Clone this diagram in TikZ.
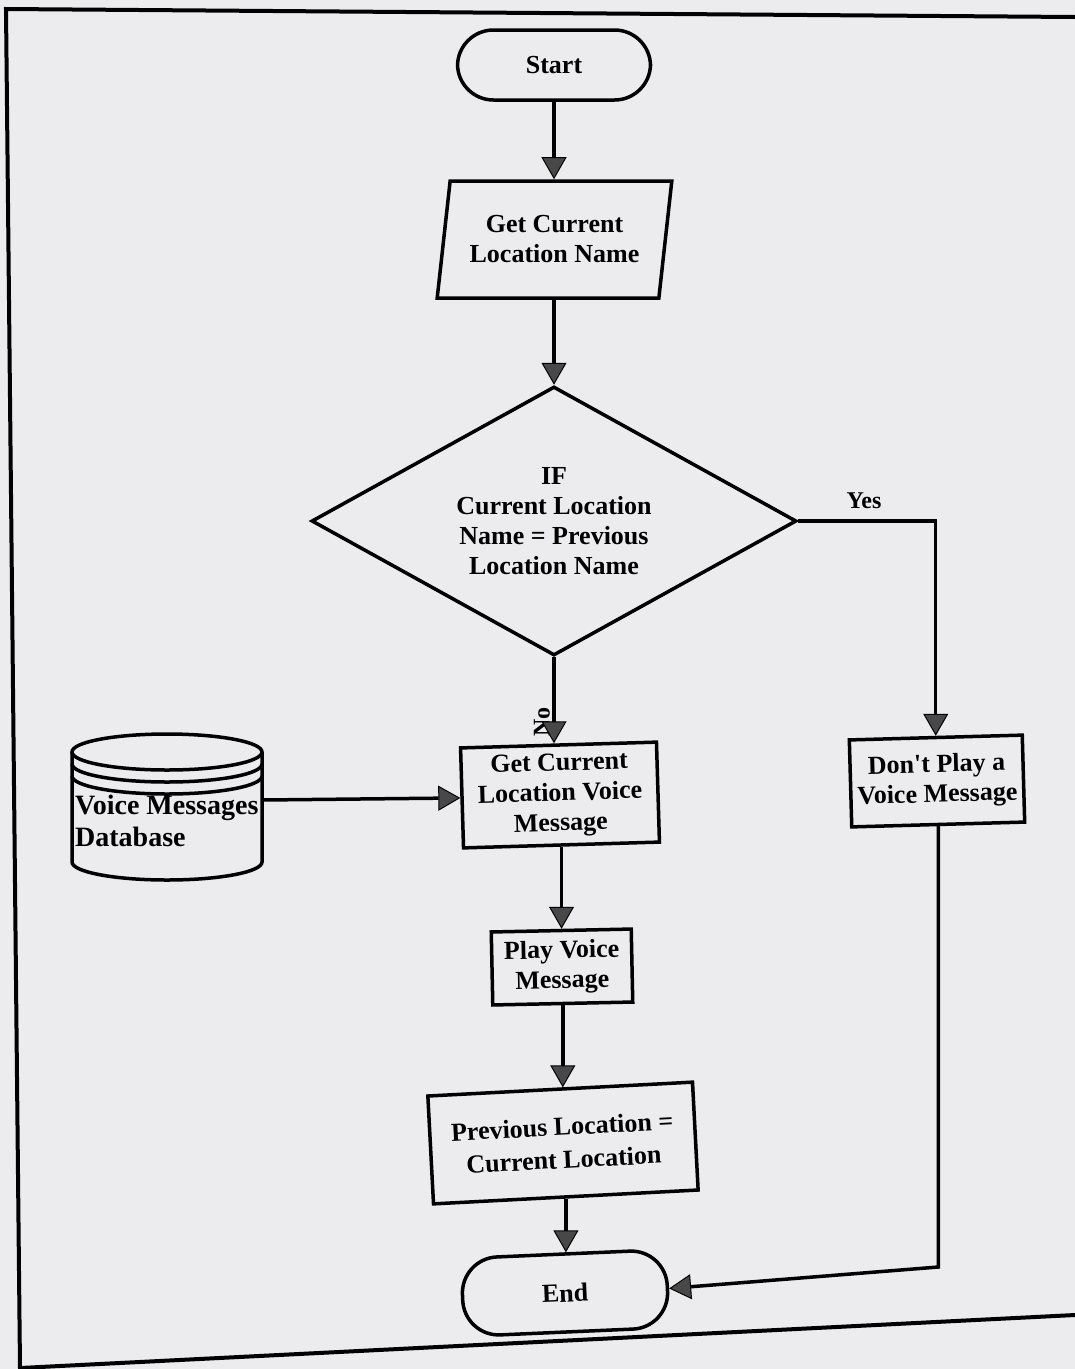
\documentclass[tikz,border=0pt]{standalone}
\usepackage{fontspec}
\setmainfont{Liberation Serif}[Ligatures=TeXOff]
\usetikzlibrary{arrows.meta,shapes.geometric}
\definecolor{paper}{RGB}{236,236,238}
\definecolor{tipgray}{RGB}{72,72,72}
\begin{document}
\begin{tikzpicture}[x=1pt,y=-1pt,
  every node/.style={font=\bfseries\fontsize{26}{30}\selectfont, align=center, inner sep=0pt},
  ln/.style={line width=3.5pt},
  arr/.style={line width=3.5pt, -{Triangle[length=22pt,width=25pt,line width=1pt,fill=tipgray]}},
  boxsh/.style={draw, line width=3.5pt, rectangle},
  termsh/.style={draw, line width=3.5pt, rectangle, rounded corners=36pt},
  lbl/.style={font=\bfseries\fontsize{24}{24}\selectfont}
]
\useasboundingbox[fill=paper] (0,0) rectangle (1075,1369);
% page frame
\draw[line width=4pt] (1075,17) -- (6,9) -- (20,1368) -- (1075,1315);

% nodes
\node[termsh, minimum width=193pt, minimum height=70pt] (start) at (554,65) {Start};
\node[draw, line width=3.5pt, trapezium, trapezium left angle=77.5, trapezium right angle=102.5,
      trapezium stretches=true, minimum width=235pt, minimum height=117pt] (par) at (554.5,239.5) {Get Current\\Location Name};
\node[draw, line width=3.5pt, diamond, aspect=1.8, minimum width=485pt, minimum height=269pt] (dia) at (554,521) {IF\\Current Location\\Name = Previous\\Location Name};
\node[boxsh, minimum width=196pt, minimum height=100pt, rotate=1.7] (voice) at (560,795) {Get Current\\Location Voice\\Message};
\node[boxsh, minimum width=173pt, minimum height=87pt, rotate=1.6] (dont) at (937,781) {Don't Play a\\Voice Message};
\node[boxsh, minimum width=140pt, minimum height=73pt, rotate=1.2] (play) at (562,967) {Play Voice\\Message};
\node[boxsh, minimum width=265pt, minimum height=108pt, rotate=3] (prev) at (563,1143) {Previous Location =\\[3pt]Current Location};
\node[termsh, minimum width=205pt, minimum height=78pt, rotate=2.5] (end) at (565,1293) {End};

% database cylinder
\node[minimum width=190pt, minimum height=140pt] (db) at (167,800) {};
\draw[ln, fill=paper] (72,752) -- (72,862) arc[start angle=180,end angle=360,x radius=95pt,y radius=18pt] -- (262,752);
\draw[ln] (167,752) ellipse[x radius=95pt, y radius=18pt];
\draw[ln] (72,764) arc[start angle=180,end angle=360,x radius=95pt,y radius=18pt];
\draw[ln] (72,776) arc[start angle=180,end angle=360,x radius=95pt,y radius=18pt];
\node[anchor=west, align=left, font=\bfseries\fontsize{28}{32}\selectfont] (dbtext) at (75,821) {Voice Messages\\Database};

% labels
\node[lbl] (yesl) at (864,501) {Yes};
\node[lbl, rotate=90] (nol) at (542,722) {No};

% connectors
\draw[arr] (start.south) -- (start.south |- par.north);
\draw[arr] (dia.north |- par.south) -- (dia.north);
\draw[arr] (dia.south) -- (dia.south |- voice.north);
\draw[arr] (dia.east) -- (dia.east -| dont.north) -- (dont.north);
\draw[arr] (db.east) -- (voice.west);
\draw[arr] (voice.south) -- (voice.south |- play.north);
\draw[arr] (play.south) -- (play.south |- prev.north);
\draw[arr] (prev.south) -- (prev.south |- end.north);
\coordinate (c1) at (943,1267);
\draw[arr] (dont.south) -- (dont.south |- c1) -- (end.east);
\end{tikzpicture}
\end{document}
